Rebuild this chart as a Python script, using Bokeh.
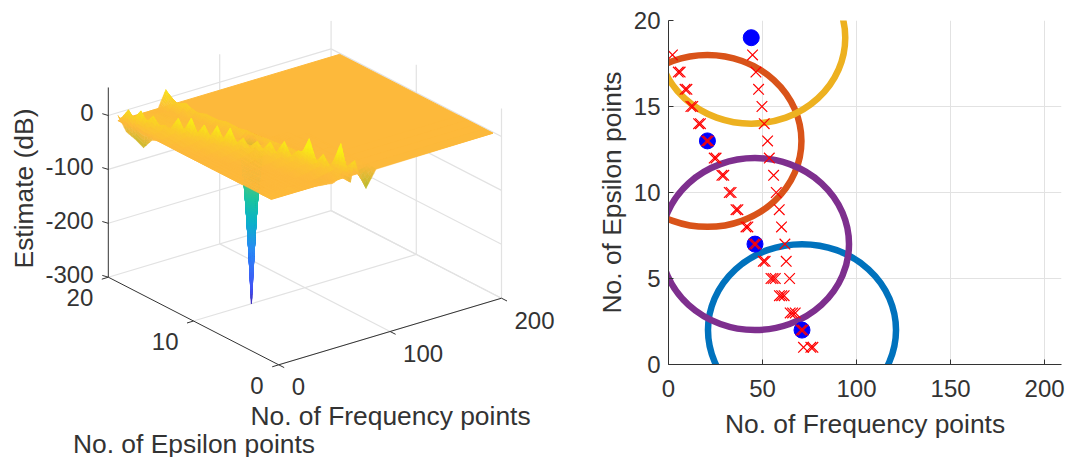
import math
import numpy as np
from bokeh.embed import file_html
from bokeh.layouts import row
from bokeh.models import FixedTicker, Range1d
from bokeh.plotting import figure
from bokeh.resources import INLINE
from bokeh.core.properties import value

# ---------- right chart data ----------
peak_freq = [44, 20.7, 46, 71]
peak_eps = [19, 13, 7, 2]
circle_freq = [71, 20.7, 44, 46]
circle_eps = [2, 13, 19, 7]
circle_colors = ["#0072BD", "#D95319", "#EDB120", "#7E2F8E"]
circle_width = 100
circle_height = 10
cross_freq = [2.1, 5.2, 6.2, 8.8, 9.8, 11.9, 12.9, 16.0, 17.0, 20.2, 21.2, 24.3, 25.3, 28.4, 29.4,
              32.3, 33.3, 35.9, 36.9, 41.2, 42.2, 45.5, 46.5, 50.4, 51.4, 54.5, 55.6, 56.8, 59, 60.2,
              61.5, 64.7, 66, 67.4, 70.5, 71.5, 71.8, 75.7, 76.8,
              44.7, 46.5, 47.9, 49.7, 50.9, 52.7, 53.6, 55.9, 57.3, 58.9, 60.1, 61.9, 62.6, 64.4]
cross_eps = [18, 17, 17, 16, 16, 15, 15, 14, 14, 13, 13, 12, 12, 11, 11,
             10, 10, 9, 9, 8, 8, 7, 7, 6, 6, 5, 5, 5, 4, 4,
             4, 3, 3, 3, 2, 2, 1, 1, 1,
             18, 17, 16, 15, 14, 13, 12, 11, 10, 9, 8, 7, 6, 5]
freq_ticks = [0, 50, 100, 150, 200]
eps_ticks = [0, 5, 10, 15, 20]

# ---------- left chart data (surface ridges read per epsilon row) ----------
rows_eps = list(range(1, 20))
ridge_a_freq = {18: 2.8, 17: 6.3, 16: 9.8, 15: 13, 14: 17, 13: 21, 12: 25, 11: 29, 10: 33, 9: 37,
                8: 42, 7: 46, 6: 51, 5: 56, 4: 58, 3: 63, 2: 71}
ridge_a_z = {18: 25, 17: 29, 16: 25, 15: 14, 14: 33, 13: 39, 12: 32, 11: 36, 10: 37, 9: 25,
             8: 24, 7: 28, 6: 34, 5: 22, 4: 51, 3: 27, 2: 50}
ridge_b_freq = {19: 44, 18: 45, 17: 46.7, 16: 48, 15: 49.8, 14: 51, 13: 52.8, 12: 53.7, 11: 56,
                10: 57.4, 9: 59, 8: 60, 7: 62, 6: 62.6, 5: 64.4}
ridge_b_z = {19: 29, 18: 13, 17: 18, 16: 9, 15: 12, 14: 10, 13: 12, 12: 10, 11: 10,
             10: 8, 9: 8, 8: 8, 7: 8, 6: 6, 5: 6}
front_row_freq = [1, 40, 56, 64, 72, 76, 80, 86, 95, 200]
front_row_z = [-1, -2, -6, 0, -14, 24, -6, -34, -4, -2]
left_edge_z = {19: 8, 18: -15, 17: -20, 16: -28, 15: -6}
plane_z = -2
dip_freq = 52
dip_eps = 10
dip_z = -300
z_ticks = [0, -100, -200, -300]
z_top = 52
e_ticks_3d = [0, 10, 20]
f_ticks_3d = [0, 100, 200]

TXT = "#333333"
GRID = "#E2E2E2"
FONT = "Liberation Sans"


def proj(f, e, z):
    return (278.2 + 1.114 * f - 8.52 * e, 364.3 - 0.333 * f - 4.38 * e - 0.539 * (z + 300))


def depth(f, e):
    return 0.333 * f + 4.38 * e


ANCH_T = [0, .09, .3, .47, .6, .657, .75, .82, .889, .95, 1]
ANCH = ["#3E26A8", "#4352F4", "#2D87F7", "#0CB2C8", "#1EC5A0", "#3CC48C", "#8CC860", "#C8B92C",
        "#FDB93B", "#F9D423", "#F8F015"]
ANCH_RGB = np.array([[int(c[i:i + 2], 16) for i in (1, 3, 5)] for c in ANCH], float)


def color(z):
    t = min(1, max(0, (z + 300) / 335))
    return "#%02x%02x%02x" % tuple(int(round(np.interp(t, ANCH_T, ANCH_RGB[:, k]))) for k in range(3))


# surface grid
knots = {1.0, 200.0, float(dip_freq), dip_freq - 6.0, dip_freq + 6.0}
knots.update(float(v) for v in front_row_freq)
for e, a in ridge_a_freq.items():
    knots.update(a + d for d in (-22, -3, 0, 3, 22) if 1 < a + d < 200)
for e, b in ridge_b_freq.items():
    knots.update(b + d for d in (-7, 0, 7, 8) if 1 < b + d < 200)
F = np.array(sorted(knots))
Z = np.full((len(rows_eps), len(F)), float(plane_z))
for j, e in enumerate(rows_eps):
    if e == 1:
        Z[j] = np.interp(F, front_row_freq, front_row_z)
        continue
    rowz = Z[j].copy()
    if e in ridge_a_freq:
        a, za = ridge_a_freq[e], ridge_a_z[e]
        end = ridge_b_freq[e] + 8 if e in ridge_b_freq else a + 22
        rowz = np.maximum(rowz, np.interp(F, [a - 22, a - 3, a, a + 3, end], [plane_z, 7, za, 4, plane_z]))
    if e in ridge_b_freq:
        b, zb = ridge_b_freq[e], ridge_b_z[e]
        rowz = np.maximum(rowz, np.interp(F, [b - 7, b, b + 7], [plane_z, zb, plane_z]))
    if e in left_edge_z:
        rowz[0] = left_edge_z[e]
    if e == dip_eps:
        m = (F >= dip_freq - 6) & (F <= dip_freq + 6)
        rowz[m] = np.interp(F[m], [dip_freq - 6, dip_freq, dip_freq + 6], [plane_z, dip_z, plane_z])
    Z[j] = rowz

cells = []
for j in range(len(rows_eps) - 1):
    for i in range(len(F) - 1):
        cells.append((-depth((F[i] + F[i + 1]) / 2, rows_eps[j] + 0.5), i, j))
cells.sort()
sx, sy, sc = [], [], []
for neg_depth, i, j in cells:
    f0, f1 = F[i], F[i + 1]
    e0, e1 = rows_eps[j], rows_eps[j + 1]
    z00, z10, z01, z11 = Z[j, i], Z[j, i + 1], Z[j + 1, i], Z[j + 1, i + 1]
    flat = max(z00, z10, z01, z11) == min(z00, z10, z01, z11) == plane_z
    if flat and -neg_depth > depth(dip_freq, dip_eps) + 8:
        continue  # behind the spike: the flat underlay already paints it
    nf = min(6, max(1, math.ceil(max(abs(z10 - z00), abs(z11 - z01)) / 8)))
    ne = min(30, max(1, math.ceil(max(abs(z01 - z00), abs(z11 - z10)) / 8)))

    def zz(u, v):
        return (z00 * (1 - u) + z10 * u) * (1 - v) + (z01 * (1 - u) + z11 * u) * v

    for a in range(ne - 1, -1, -1):
        for b in range(nf - 1, -1, -1):
            uv = [(b / nf, a / ne), ((b + 1) / nf, a / ne), ((b + 1) / nf, (a + 1) / ne), (b / nf, (a + 1) / ne)]
            pts = [proj(f0 + (f1 - f0) * u, e0 + (e1 - e0) * v, zz(u, v)) for u, v in uv]
            sx.append([p[0] for p in pts])
            sy.append([p[1] for p in pts])
            sc.append(color(zz((b + .5) / nf, (a + .5) / ne)))

# ---------- left figure (its frame coordinates are the picture's pixels) ----------
LW, TOP, BOTTOM = 590, 20, 457
left = figure(frame_width=LW, frame_height=BOTTOM - TOP, x_range=Range1d(0, LW), y_range=Range1d(BOTTOM, TOP),
              output_backend="svg", toolbar_location=None, min_border=0, min_border_top=TOP,
              x_axis_location=None, y_axis_location=None)
left.grid.visible = False
left.outline_line_color = None
left.background_fill_color = "white"


def seg(a, b, col, w=1.2):
    left.line([a[0], b[0]], [a[1], b[1]], line_color=col, line_width=w)


Fm, Em, Zb = f_ticks_3d[-1], e_ticks_3d[-1], z_ticks[-1]
for z in z_ticks:
    seg(proj(0, Em, z), proj(Fm, Em, z), GRID)
    seg(proj(Fm, Em, z), proj(Fm, 0, z), GRID)
for f in f_ticks_3d[1:]:
    seg(proj(f, Em, Zb), proj(f, Em, z_top), GRID)
    seg(proj(f, 0, Zb), proj(f, Em, Zb), GRID)
for e in e_ticks_3d[:-1]:
    seg(proj(Fm, e, Zb), proj(Fm, e, z_top), GRID)
    seg(proj(0, e, Zb), proj(Fm, e, Zb), GRID)

seg(proj(0, Em, Zb), proj(0, Em, z_top), TXT, 1)
seg(proj(0, 0, Zb), proj(0, Em, Zb), TXT, 1)
seg(proj(0, 0, Zb), proj(Fm, 0, Zb), TXT, 1)
for z in z_ticks:
    x0, y0 = proj(0, Em, z)
    seg((x0, y0), (x0 - 6, y0 - 1.8), TXT, 1)
for e in e_ticks_3d:
    x0, y0 = proj(0, e, Zb)
    seg((x0, y0), (x0 - 6.5, y0 + 2), TXT, 1)
for f in f_ticks_3d:
    x0, y0 = proj(f, 0, Zb)
    seg((x0, y0), (x0 + 5.5, y0 + 2.8), TXT, 1)

# flat underlay of the surface, then the cells, farthest first
f_lo, f_hi = float(F[0]), float(F[-1])
e_lo, e_hi = rows_eps[0], rows_eps[-1]
under = [proj(f, e, plane_z) for f, e in [(f_lo, e_lo), (f_lo, e_hi), (f_hi, e_hi), (f_hi, e_lo)]]
left.patch([p[0] for p in under], [p[1] for p in under], fill_color=color(plane_z), line_color=color(plane_z))
left.patches(sx, sy, fill_color=sc, line_color=sc, line_width=0.5)


def ltext(x, y, s, size, align="center", angle=0):
    left.text([x], [y], text=[s], text_font=value(FONT), text_font_size=size, text_color=TXT,
              text_align=align, text_baseline="middle", angle=angle)


for z in z_ticks:
    x0, y0 = proj(0, Em, z)
    ltext(93, y0 - 3, str(z), "24px", "right")
for e in e_ticks_3d:
    x0, y0 = proj(0, e, Zb)
    ltext(x0 - 15, y0 + 20.5, str(e), "24px", "right")
for f in f_ticks_3d:
    x0, y0 = proj(f, 0, Zb)
    ltext(x0 + 13, y0 + 22, str(f), "24px", "left")
ltext(23.4, 188, "Estimate (dB)", "26.4px", "center", math.pi / 2)
ltext(390, 415.7, "No. of Frequency points", "26.4px")
ltext(193.5, 443, "No. of Epsilon points", "26.4px")

# ---------- right figure ----------
right = figure(frame_width=393, frame_height=344, x_range=Range1d(0, 209), y_range=Range1d(0, 20),
               output_backend="svg", toolbar_location=None,
               min_border_left=78, min_border_right=4, min_border_top=TOP, min_border_bottom=93,
               x_axis_label="No. of Frequency points", y_axis_label="No. of Epsilon points")
right.outline_line_color = None
right.xaxis.ticker = FixedTicker(ticks=freq_ticks)
right.yaxis.ticker = FixedTicker(ticks=eps_ticks)
for ax in (right.xaxis[0], right.yaxis[0]):
    ax.major_tick_in = 5
    ax.major_tick_out = 0
    ax.minor_tick_line_color = None
    ax.axis_line_color = TXT
    ax.major_tick_line_color = TXT
    ax.major_label_text_color = TXT
    ax.major_label_text_font = FONT
    ax.major_label_text_font_size = "24px"
    ax.axis_label_text_color = TXT
    ax.axis_label_text_font = FONT
    ax.axis_label_text_font_size = "26.4px"
    ax.axis_label_text_font_style = "normal"
right.xaxis[0].major_label_standoff = 15
right.xaxis[0].axis_label_standoff = 9
right.yaxis[0].major_label_standoff = 8
right.yaxis[0].axis_label_standoff = 4
right.yaxis[0].major_label_orientation = "horizontal"
right.grid.grid_line_color = GRID
right.grid.grid_line_width = 1

for xc, yc, c in zip(circle_freq, circle_eps, circle_colors):
    right.ellipse([xc], [yc], width=circle_width, height=circle_height, fill_color=None,
                  line_color=c, line_width=6.5)
right.scatter(peak_freq, peak_eps, marker="circle", size=16, fill_color="#0000FF", line_color="#0000FF")
right.scatter(cross_freq, cross_eps, marker="x", size=15, line_color="#FF0000", line_width=1.2)

page = row(left, right, spacing=0)
open("out.html", "w").write(file_html(page, INLINE))
